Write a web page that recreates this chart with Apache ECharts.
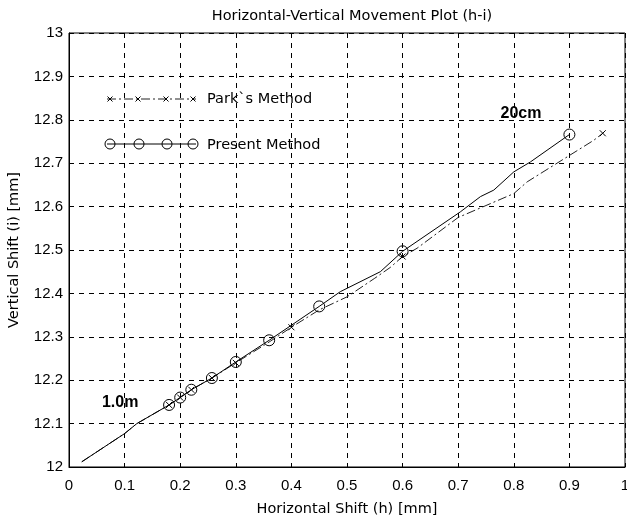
<!DOCTYPE html>
<html><head><meta charset="utf-8">
<script src="https://cdn.jsdelivr.net/npm/echarts@6/dist/echarts.min.js"></script>
<style>html,body{margin:0;padding:0;background:#fff}#c{width:627px;height:520px}</style>
</head><body><div id="c"></div>
<script>
// Present method: continuous curve and circle marker positions
var presentLineX = [0.023, 0.1, 0.122, 0.18, 0.2, 0.22, 0.257, 0.3, 0.36, 0.45, 0.488, 0.56, 0.6, 0.704, 0.74, 0.764, 0.8, 0.83, 0.9];
var presentLineY = [12.012, 12.077, 12.1, 12.143, 12.16, 12.178, 12.205, 12.242, 12.292, 12.37, 12.404, 12.45, 12.497, 12.588, 12.623, 12.638, 12.68, 12.703, 12.766];
var presentMarkX = [0.18, 0.2, 0.22, 0.257, 0.3, 0.36, 0.45, 0.6, 0.9];
var presentMarkY = [12.143, 12.16, 12.178, 12.205, 12.242, 12.292, 12.37, 12.497, 12.766];
// Park's method: dash-dot curve and x marker positions
var parkLineX = [0.023, 0.1, 0.122, 0.18, 0.2, 0.22, 0.257, 0.3, 0.36, 0.4, 0.45, 0.5, 0.55, 0.578, 0.6, 0.626, 0.7, 0.8, 0.824, 0.944, 0.96];
var parkLineY = [12.012, 12.077, 12.1, 12.143, 12.16, 12.178, 12.205, 12.24, 12.288, 12.322, 12.362, 12.392, 12.435, 12.46, 12.485, 12.504, 12.575, 12.63, 12.657, 12.753, 12.769];
var parkMarkX = [0.18, 0.2, 0.22, 0.257, 0.3, 0.4, 0.6, 0.96];
var parkMarkY = [12.143, 12.16, 12.178, 12.205, 12.24, 12.322, 12.485, 12.769];

var titleText = 'Horizontal-Vertical Movement Plot (h-i)';
var xName = 'Horizontal Shift (h) [mm]';
var yName = 'Vertical Shift (i) [mm]';
var seriesNames = ['Park`s Method', 'Present Method'];
var annotations = [{text: '20cm', x: 0.813, y: 12.815}, {text: '1.0m', x: 0.092, y: 12.149}];

function zip(a, b) { return a.map(function (v, i) { return [v, b[i]]; }); }
var FONT = 'Liberation Sans, Arial, sans-serif';
var WFONT = 'DejaVu Sans, sans-serif';
var xSym = 'path://M0,0L10,10M10,0L0,10';

// legend sample drawings (decoration, pixel layout)
var legendGraphics = [];
(function () {
  var y1 = 99, y2 = 144, x0 = 107, x1 = 196;
  legendGraphics.push({type: 'line', shape: {x1: x0, y1: y1, x2: x1, y2: y1}, style: {stroke: '#222', lineWidth: 1, lineDash: [9, 3, 2, 3]}});
  [110, 138, 166, 193].forEach(function (cx) {
    legendGraphics.push({type: 'line', shape: {x1: cx - 2.5, y1: y1 - 2.5, x2: cx + 2.5, y2: y1 + 2.5}, style: {stroke: '#000', lineWidth: 1}});
    legendGraphics.push({type: 'line', shape: {x1: cx + 2.5, y1: y1 - 2.5, x2: cx - 2.5, y2: y1 + 2.5}, style: {stroke: '#000', lineWidth: 1}});
  });
  legendGraphics.push({type: 'line', shape: {x1: x0, y1: y2, x2: x1, y2: y2}, style: {stroke: '#000', lineWidth: 1}});
  [110, 139, 167, 193].forEach(function (cx) {
    legendGraphics.push({type: 'circle', shape: {cx: cx, cy: y2, r: 5}, style: {stroke: '#000', lineWidth: 1, fill: 'rgba(0,0,0,0)'}});
  });
})();

var chart = echarts.init(document.getElementById('c'));
var option = {
  backgroundColor: '#fff',
  animation: false,
  title: {text: titleText, left: 347, top: 4, textAlign: 'center',
    textStyle: {fontFamily: WFONT, fontSize: 14.5, fontWeight: 'normal', color: '#000'}},
  grid: {left: 69, right: 2, top: 33, bottom: 53, containLabel: false, outerBoundsMode: 'none',
    show: true, borderColor: '#000', borderWidth: 1},
  legend: {
    orient: 'vertical', left: 107, top: 92, padding: 0, itemWidth: 95, itemHeight: 14, itemGap: 31,
    itemStyle: {opacity: 0}, lineStyle: {opacity: 0},
    textStyle: {fontFamily: WFONT, fontSize: 14.5, color: '#000'},
    data: [{name: seriesNames[0], icon: 'rect'}, {name: seriesNames[1], icon: 'rect'}]
  },
  graphic: legendGraphics,
  xAxis: {
    type: 'value', min: 0, max: 1, interval: 0.1,
    name: xName, nameLocation: 'middle', nameGap: 35,
    nameTextStyle: {fontFamily: WFONT, fontSize: 14.5, color: '#000'},
    axisLine: {show: true, lineStyle: {color: '#000'}},
    axisTick: {show: true, inside: true, length: 4, lineStyle: {color: '#000'}},
    axisLabel: {fontFamily: FONT, fontSize: 15, color: '#000', margin: 11,
      formatter: function (v) { return Math.abs(v - Math.round(v)) < 1e-9 ? String(Math.round(v)) : v.toFixed(1); }},
    splitLine: {show: true, lineStyle: {color: '#000', type: [5, 5], width: 1}}
  },
  yAxis: {
    type: 'value', min: 12, max: 13, interval: 0.1,
    name: yName, nameLocation: 'middle', nameGap: 47,
    nameTextStyle: {fontFamily: WFONT, fontSize: 14.5, color: '#000'},
    axisLine: {show: true, lineStyle: {color: '#000'}},
    axisTick: {show: true, inside: true, length: 4, lineStyle: {color: '#000'}},
    axisLabel: {fontFamily: FONT, fontSize: 15, color: '#000', margin: 6,
      formatter: function (v) { return Math.abs(v - Math.round(v)) < 1e-9 ? String(Math.round(v)) : v.toFixed(1); }},
    splitLine: {show: true, lineStyle: {color: '#000', type: [5, 5], width: 1}}
  },
  series: [
    {name: seriesNames[0], type: 'line', data: zip(parkLineX, parkLineY), showSymbol: false, symbol: 'none',
      lineStyle: {color: '#222', width: 1, type: [9, 3, 2, 3]}, z: 3},
    {name: seriesNames[0], type: 'scatter', data: zip(parkMarkX, parkMarkY), symbol: xSym, symbolSize: 6,
      itemStyle: {color: 'none', borderColor: '#000', borderWidth: 1, opacity: 1}, z: 4},
    {name: seriesNames[1], type: 'line', data: zip(presentLineX, presentLineY), showSymbol: false, symbol: 'none',
      lineStyle: {color: '#000', width: 1}, z: 3},
    {name: seriesNames[1], type: 'scatter', data: zip(presentMarkX, presentMarkY), symbol: 'circle', symbolSize: 11,
      itemStyle: {color: 'rgba(0,0,0,0)', borderColor: '#000', borderWidth: 1, opacity: 1}, z: 4},
    {type: 'scatter', data: annotations.map(function (a) { return {value: [a.x, a.y], label: {formatter: a.text}}; }),
      symbolSize: 0, silent: true, itemStyle: {opacity: 1},
      label: {show: true, position: 'inside', fontFamily: FONT, fontSize: 16, fontWeight: 'bold', color: '#000', opacity: 1}, z: 5}
  ]
};
chart.setOption(option);
</script></body></html>
